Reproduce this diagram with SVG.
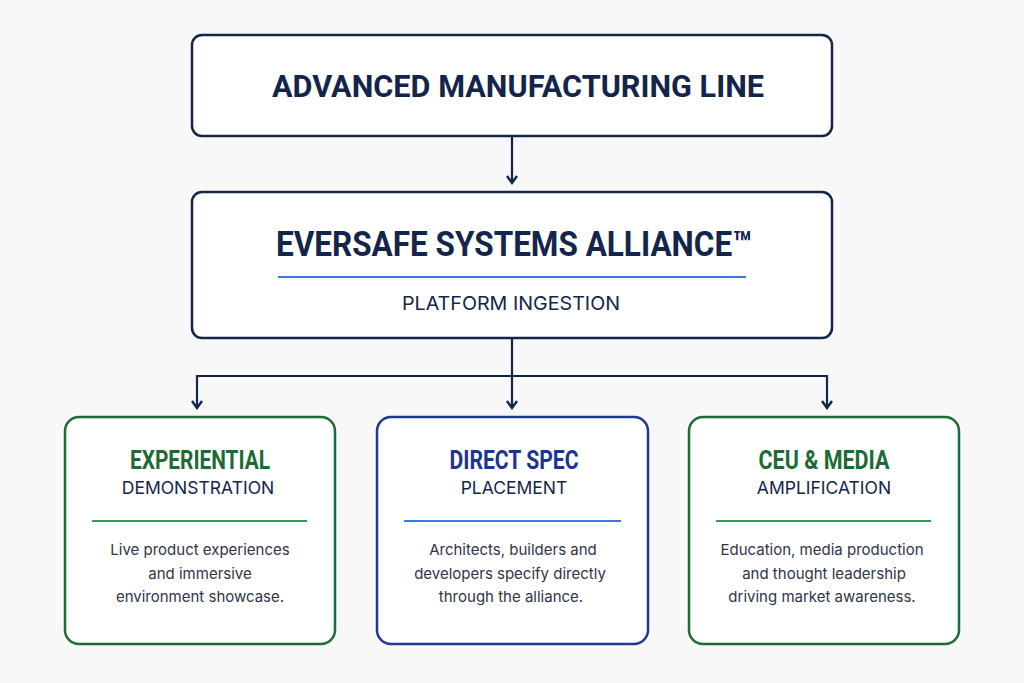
<svg xmlns="http://www.w3.org/2000/svg" width="1024" height="683" viewBox="0 0 1024 683">
<style>
.bg{fill:#f8f8f9}
.navybox{fill:#ffffff;stroke:#13254a;stroke-width:2.5}
.greenbox{fill:#ffffff;stroke:#1f6b36;stroke-width:2.5}
.bluebox{fill:#ffffff;stroke:#1c3a93;stroke-width:2.5}
.conn{fill:none;stroke:#13254a;stroke-width:2.2}
.t1{font-family:Roboto,"Liberation Sans",sans-serif;font-weight:700;fill:#13254a;text-anchor:middle}
.sub{font-family:Inter,"Liberation Sans",sans-serif;font-weight:400;fill:#13254a;text-anchor:middle}
.hg{font-family:Roboto,"Liberation Sans",sans-serif;font-weight:700;fill:#1d6a35;text-anchor:middle;font-size:25px}
.hb{font-family:Roboto,"Liberation Sans",sans-serif;font-weight:700;fill:#1a3590;text-anchor:middle;font-size:25px}
.h2{font-family:Inter,"Liberation Sans",sans-serif;font-weight:400;fill:#13254a;text-anchor:middle;font-size:17.5px}
.body{font-family:Inter,"Liberation Sans",sans-serif;font-weight:400;fill:#2e3547;text-anchor:middle;font-size:15px}
.lg{stroke:#3b9a58;stroke-width:2}
.lb{stroke:#3a7ae0;stroke-width:2}
</style>
<defs>
<marker id="arr" viewBox="0 0 12 12" refX="10" refY="6" markerWidth="12" markerHeight="12" markerUnits="userSpaceOnUse" orient="auto">
<path d="M3,1 L10,6 L3,11" fill="none" stroke="#13254a" stroke-width="2.4"/>
</marker>
</defs>
<rect class="bg" x="0" y="0" width="1024" height="683"/>

<g id="connectors">
<line class="conn" x1="512" y1="137" x2="512" y2="183" marker-end="url(#arr)"/>
<line class="conn" x1="512" y1="339" x2="512" y2="408" marker-end="url(#arr)"/>
<path class="conn" d="M197,376 H827"/>
<line class="conn" x1="197" y1="375" x2="197" y2="408" marker-end="url(#arr)"/>
<line class="conn" x1="827" y1="375" x2="827" y2="408" marker-end="url(#arr)"/>
</g>

<g id="node-manufacturing">
<rect class="navybox" x="192" y="35" width="640" height="101" rx="10"/>
<text class="t1" x="518" y="97" font-size="31" textLength="492" lengthAdjust="spacingAndGlyphs">ADVANCED MANUFACTURING LINE</text>
</g>

<g id="node-alliance">
<rect class="navybox" x="192" y="192" width="640" height="146" rx="10"/>
<text class="t1" x="514" y="256" font-size="35" textLength="476" lengthAdjust="spacingAndGlyphs">EVERSAFE SYSTEMS ALLIANCE™</text>
<line class="lb" x1="278" y1="277" x2="746" y2="277"/>
<text class="sub" x="511" y="310" font-size="19" textLength="218" lengthAdjust="spacingAndGlyphs">PLATFORM INGESTION</text>
</g>

<g id="node-experiential">
<rect class="greenbox" x="65" y="417" width="270" height="227" rx="14"/>
<text class="hg" x="200" y="469" textLength="140" lengthAdjust="spacingAndGlyphs">EXPERIENTIAL</text>
<text class="h2" x="198" y="494">DEMONSTRATION</text>
<line class="lg" x1="92" y1="521" x2="307" y2="521"/>
<text class="body" x="200" y="555">Live product experiences</text>
<text class="body" x="200" y="579">and immersive</text>
<text class="body" x="200" y="602">environment showcase.</text>
</g>

<g id="node-direct-spec">
<rect class="bluebox" x="377" y="417" width="271" height="227" rx="14"/>
<text class="hb" x="514" y="469" textLength="129" lengthAdjust="spacingAndGlyphs">DIRECT SPEC</text>
<text class="h2" x="514" y="494">PLACEMENT</text>
<line class="lb" x1="404" y1="521" x2="621" y2="521"/>
<text class="body" x="513" y="555">Architects, builders and</text>
<text class="body" x="510" y="579">developers specify directly</text>
<text class="body" x="511" y="602">through the alliance.</text>
</g>

<g id="node-ceu-media">
<rect class="greenbox" x="689" y="417" width="270" height="227" rx="14"/>
<text class="hg" x="824" y="469" textLength="131" lengthAdjust="spacingAndGlyphs">CEU &amp; MEDIA</text>
<text class="h2" x="824" y="494">AMPLIFICATION</text>
<line class="lg" x1="716" y1="521" x2="931" y2="521"/>
<text class="body" x="822" y="555">Education, media production</text>
<text class="body" x="824" y="579">and thought leadership</text>
<text class="body" x="822" y="602">driving market awareness.</text>
</g>
</svg>
